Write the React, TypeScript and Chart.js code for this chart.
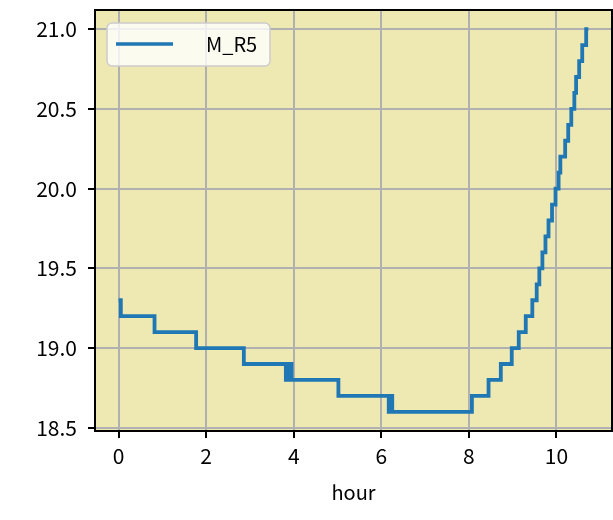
import React, { useEffect, useRef } from "react";
import { Chart, registerables } from "chart.js";

Chart.register(...registerables);

const seriesLabel = "M_R5";
const hours = [0, 0.05, 0.82, 1.77, 2.86, 3.82, 3.86, 3.89, 3.92, 3.95, 5.02, 6.17, 6.2, 6.25, 8.07, 8.45, 8.73, 8.98, 9.14, 9.3, 9.45, 9.55, 9.61, 9.68, 9.75, 9.82, 9.9, 9.98, 10.05, 10.09, 10.2, 10.27, 10.34, 10.41, 10.45, 10.52, 10.59, 10.68, 10.73];
const temps = [19.3, 19.2, 19.1, 19.0, 18.9, 18.8, 18.9, 18.8, 18.9, 18.8, 18.7, 18.6, 18.7, 18.6, 18.7, 18.8, 18.9, 19.0, 19.1, 19.2, 19.3, 19.4, 19.5, 19.6, 19.7, 19.8, 19.9, 20.0, 20.1, 20.2, 20.3, 20.4, 20.5, 20.6, 20.7, 20.8, 20.9, 21.0, 21.0];
const xTicks = [0, 2, 4, 6, 8, 10];
const yTicks = [18.5, 19.0, 19.5, 20.0, 20.5, 21.0];
const xTitle = "hour";

const FONT = "'Noto Sans CJK JP', 'Noto Sans', sans-serif";
const LINE_COLOR = "#1f77b4";
const BG = "#eee8b2";

const framePlugin = {
  id: "frameAndLegend",
  beforeDraw(chart: any) {
    const { ctx, chartArea: a } = chart;
    ctx.save();
    ctx.fillStyle = BG;
    ctx.fillRect(a.left, a.top, a.right - a.left, a.bottom - a.top);
    ctx.restore();
  },
  afterDraw(chart: any) {
    const { ctx, chartArea: a } = chart;
    ctx.save();
    ctx.strokeStyle = "#000";
    ctx.lineWidth = 2;
    ctx.strokeRect(a.left, a.top, a.right - a.left, a.bottom - a.top);
    const lx = a.left + 12;
    const ly = a.top + 13;
    const lw = 163;
    const lh = 43;
    ctx.beginPath();
    (ctx as any).roundRect(lx, ly, lw, lh, 5);
    ctx.fillStyle = "rgba(255,255,255,0.8)";
    ctx.fill();
    ctx.strokeStyle = "#cccccc";
    ctx.lineWidth = 1.5;
    ctx.stroke();
    const ds = chart.data.datasets[0];
    ctx.beginPath();
    ctx.moveTo(lx + 9, ly + 21);
    ctx.lineTo(lx + 66, ly + 21);
    ctx.strokeStyle = ds.borderColor;
    ctx.lineWidth = 3.5;
    ctx.stroke();
    ctx.fillStyle = "#000";
    ctx.font = `20px ${FONT}`;
    ctx.textBaseline = "middle";
    ctx.textAlign = "left";
    ctx.fillText(ds.label, lx + 99, ly + 21);
    ctx.restore();
  },
};

export default function App() {
  const ref = useRef<HTMLCanvasElement | null>(null);
  useEffect(() => {
    document.body.style.margin = "0";
    if (!ref.current) return;
    const chart = new Chart(ref.current, {
      type: "line",
      data: {
        datasets: [
          {
            label: seriesLabel,
            data: hours.map((h, i) => ({ x: h, y: temps[i] })),
            borderColor: LINE_COLOR,
            backgroundColor: LINE_COLOR,
            borderWidth: 3.8,
            pointRadius: 0,
            stepped: "before",
            fill: false,
          },
        ],
      },
      options: {
        animation: false,
        responsive: false,
        devicePixelRatio: 1,
        layout: { padding: { top: 10, right: 1, left: 0, bottom: 0 } },
        plugins: { legend: { display: false }, tooltip: { enabled: false } },
        scales: {
          x: {
            type: "linear",
            min: -0.54,
            max: 11.27,
            afterBuildTicks: (s: any) => {
              s.ticks = xTicks.map((v) => ({ value: v }));
            },
            afterFit: (s: any) => {
              s.height = 89;
              s.paddingLeft = 0;
              s.paddingRight = 0;
            },
            grid: {
              color: "#b0b0b0",
              lineWidth: 2,
              tickColor: "#000",
              tickLength: 7,
              tickWidth: 2,
            },
            border: { display: true, color: "#000", width: 2 },
            ticks: {
              color: "#000",
              font: { family: FONT, size: 21 },
              padding: 5,
              maxRotation: 0,
              callback: (v: any) => String(v),
            },
            title: {
              display: true,
              text: xTitle,
              color: "#000",
              font: { family: FONT, size: 20 },
              padding: { top: 0, bottom: 16 },
            },
          },
          y: {
            type: "linear",
            min: 18.48,
            max: 21.12,
            afterBuildTicks: (s: any) => {
              s.ticks = yTicks.map((v) => ({ value: v }));
            },
            afterFit: (s: any) => {
              s.width = 95;
              s.paddingTop = 0;
              s.paddingBottom = 0;
            },
            grid: {
              color: "#b0b0b0",
              lineWidth: 2,
              tickColor: "#000",
              tickLength: 7,
              tickWidth: 2,
            },
            border: { display: true, color: "#000", width: 2 },
            ticks: {
              color: "#000",
              font: { family: FONT, size: 21 },
              padding: 11,
              callback: (v: any) => Number(v).toFixed(1),
            },
          },
        },
      },
      plugins: [framePlugin],
    });
    return () => chart.destroy();
  }, []);
  return (
    <div style={{ width: 613, height: 520 }}>
      <canvas ref={ref} width={613} height={520} style={{ display: "block" }} />
    </div>
  );
}
